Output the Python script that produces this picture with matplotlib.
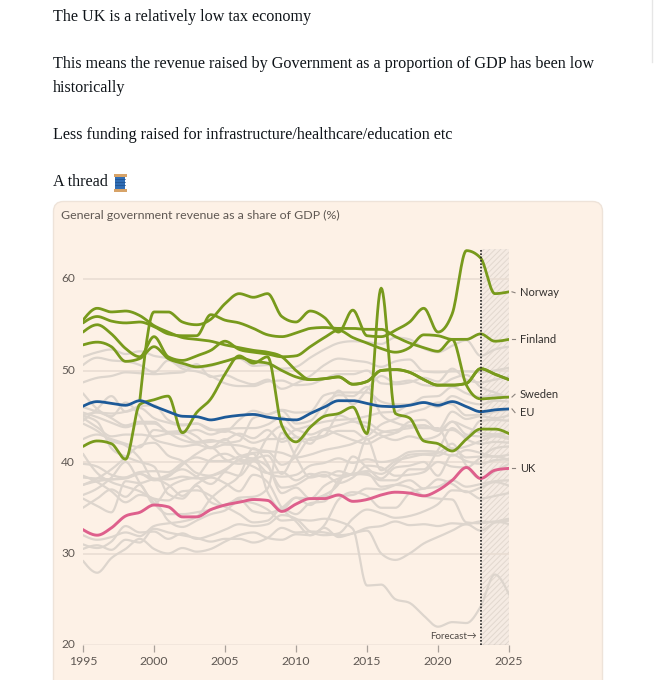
import numpy as np
import matplotlib
matplotlib.use('Agg')
import matplotlib.pyplot as plt
from matplotlib.patches import FancyBboxPatch, Rectangle

# ---- datos ----
years = list(range(1995, 2026))
nan = np.nan

eu = [46.1, 46.6, 46.4, 46.2, 46.7, 46.1, 45.5, 45.0, 44.95, 44.6, 44.9, 45.1, 45.2, 44.9, 44.7, 44.6,
      45.3, 46.0, 46.7, 46.7, 46.4, 46.1, 46.05, 46.2, 46.5, 46.2, 46.6, 46.05, 45.5, 45.7, 45.8]
uk = [32.6, 32.0, 32.8, 34.1, 34.5, 35.3, 35.1, 34.0, 34.0, 34.8, 35.3, 35.6, 35.9, 35.8, 34.6, 35.4,
      36.0, 36.0, 36.4, 35.7, 35.9, 36.4, 36.7, 36.6, 36.3, 36.9, 38.0, 39.4, 38.2, 39.1, 39.3]

norway = [nan, nan, nan, nan, 46.7, 56.4, 56.4, 55.3, 55.0, 55.6, 57.3, 58.4, 58.0, 58.4, 55.9, 55.3,
          56.5, 55.8, 54.2, 56.6, 53.8, 53.7, 54.4, 55.3, 56.8, 54.2, 56.2, 63.1, 62.3, 58.4, 58.6]
finland = [54.2, 55.0, 54.0, 52.4, 51.5, 53.7, 51.5, 51.1, 51.6, 52.2, 53.2, 52.3, 52.0, 51.8, 51.5, 51.6,
           52.6, 53.6, 54.4, 53.6, 53.0, 52.4, 52.0, 52.5, 53.9, 53.8, 53.4, 53.4, 54.0, 53.2, 53.4]
sweden = [55.2, 55.9, 55.4, 55.2, 55.3, 54.8, 54.0, 53.8, 53.8, 56.1, 55.5, 55.2, 54.6, 53.9, 53.7, 54.1,
          54.6, 54.7, 54.6, 54.6, 54.5, 54.5, 53.7, 53.0, 52.5, 52.1, 53.4, 48.4, 46.9, 47.0, 47.1]
verde3 = [55.5, 56.8, 56.4, 56.5, 56.0, 54.9, 54.2, 53.6, 53.4, 53.2, 52.8, 52.5, 52.2, 52.0, 51.5, 50.0,
          49.0, 49.1, 49.3, 48.5, 48.8, 50.0, 50.1, 49.8, 49.0, 48.4, 48.4, 48.6, 50.2, 49.6, 49.0]
verde4 = [52.8, 53.1, 52.6, 51.0, 51.3, 52.6, 51.3, 50.8, 50.4, 50.6, 51.0, 51.4, 51.0, 50.8, 50.0, 49.3,
          49.0, 49.1, 49.3, 48.5, 48.8, 50.0, 50.1, 49.8, 49.0, 48.4, 48.4, 48.6, 50.2, 49.6, 49.0]
islandia = [41.7, 42.3, 42.0, 40.3, 46.3, 46.8, 47.2, 43.2, 45.4, 46.9, 49.6, 51.6, 50.8, 51.5, 44.0, 42.2,
            43.8, 45.0, 45.3, 46.0, 43.1, 59.0, 45.3, 44.8, 42.3, 42.0, 41.2, 42.5, 43.6, 43.6, 43.1]
verdes = [norway, finland, sweden, verde3, verde4, islandia]

grises = [
    [51.5, 52.0, 52.3, 51.8, 52.1, 51.6, 51.3, 50.5, 50.3, 50.5, 51.0, 51.3, 50.5, 50.6, 50.2, 50.4,
     51.4, 52.3, 53.0, 53.2, 53.1, 52.9, 53.6, 53.4, 52.4, 52.0, 52.7, 53.3, 51.6, 52.3, 52.6],
    [48.7, 49.2, 49.4, 49.8, 49.7, 49.6, 49.7, 49.8, 50.7, 49.3, 49.5, 48.9, 48.5, 49.0, 48.0, 48.6,
     49.4, 50.6, 51.3, 51.1, 50.9, 50.4, 51.0, 51.2, 49.9, 49.8, 49.9, 49.9, 49.8, 50.0, 50.3],
    [50.6, 51.4, 51.1, 51.0, 50.6, 49.8, 51.1, 50.2, 49.9, 49.4, 48.6, 48.3, 48.3, 48.8, 48.9, 48.4,
     48.5, 49.1, 49.6, 49.6, 50.0, 48.6, 48.5, 48.7, 49.2, 48.8, 50.2, 49.0, 48.7, 49.0, 49.3],
    [44.5, 45.8, 47.2, 45.5, 45.9, 44.8, 44.3, 44.0, 44.2, 43.6, 43.3, 44.6, 45.6, 45.2, 45.7, 45.4,
     45.5, 47.3, 47.6, 47.6, 47.6, 46.6, 46.3, 46.3, 47.1, 47.2, 48.2, 47.5, 47.1, 47.3, 47.0],
    [45.1, 45.4, 45.3, 45.5, 46.1, 46.2, 44.6, 44.1, 44.2, 43.5, 43.6, 43.7, 43.7, 44.1, 44.9, 43.6,
     44.0, 44.4, 44.6, 44.7, 45.0, 45.4, 45.5, 46.3, 46.5, 46.0, 47.2, 46.6, 46.3, 46.7, 46.6],
    [45.4, 44.9, 44.3, 43.8, 44.2, 44.2, 43.2, 42.4, 42.1, 42.2, 42.4, 43.1, 42.6, 43.5, 42.2, 42.7,
     42.4, 42.8, 43.4, 43.4, 42.5, 43.2, 43.5, 43.7, 44.0, 43.4, 44.4, 43.0, 42.8, 43.0, 43.2],
    [47.5, 45.8, 44.8, 44.0, 44.4, 44.4, 43.2, 43.0, 42.2, 42.4, 42.1, 42.3, 44.8, 45.2, 45.6, 44.2,
     44.5, 46.3, 47.3, 47.2, 48.2, 45.2, 44.3, 43.9, 43.7, 43.7, 41.4, 41.7, 42.3, 42.8, 42.5],
    [37.5, 38.2, 39.2, 40.5, 41.8, 42.1, 40.7, 40.1, 38.8, 38.5, 38.9, 38.5, 40.2, 40.7, 38.7, 41.3,
     43.8, 45.2, 47.8, 46.3, 47.9, 49.4, 48.7, 48.9, 48.4, 48.3, 49.1, 49.5, 48.2, 47.6, 47.0],
    [37.5, 37.9, 38.1, 38.3, 38.9, 39.0, 38.9, 39.9, 40.5, 40.1, 40.1, 40.6, 41.0, 41.1, 39.7, 40.6,
     42.6, 42.9, 45.1, 44.5, 43.8, 42.9, 42.4, 42.8, 42.5, 42.9, 44.4, 43.8, 43.2, 43.0, 42.7],
    [38.3, 38.2, 38.1, 38.2, 38.7, 38.2, 38.1, 38.4, 38.2, 38.5, 39.2, 40.3, 40.9, 36.7, 34.8, 36.1,
     36.0, 37.4, 38.2, 38.7, 38.6, 38.0, 38.0, 39.2, 39.2, 41.3, 43.7, 42.5, 42.0, 42.2, 42.1],
    [39.8, 39.5, 38.6, 38.3, 38.7, 38.0, 38.4, 39.7, 40.9, 41.6, 40.3, 39.8, 40.1, 38.8, 38.4, 38.6,
     39.6, 39.9, 40.4, 39.9, 40.3, 40.0, 40.3, 41.1, 41.2, 41.1, 40.7, 41.3, 41.0, 40.6, 40.8],
    [45.0, 44.4, 41.5, 40.6, 40.0, 39.5, 36.5, 36.0, 37.4, 35.6, 35.1, 34.3, 33.4, 33.6, 34.9, 34.3,
     35.5, 35.7, 38.0, 38.8, 42.5, 39.1, 40.1, 40.5, 40.8, 40.7, 41.5, 40.5, 40.6, 40.6, 40.2],
    [44.2, 43.4, 42.3, 41.8, 40.4, 38.1, 38.6, 39.2, 38.4, 37.6, 39.0, 40.2, 40.2, 39.5, 37.2, 37.5,
     38.4, 38.9, 38.5, 38.7, 39.0, 38.7, 39.8, 40.8, 40.9, 41.0, 42.0, 39.6, 38.2, 39.0, 39.8],
    [40.9, 38.8, 37.8, 37.3, 36.8, 36.0, 35.8, 36.8, 36.9, 36.3, 35.2, 36.1, 36.2, 37.1, 43.2, 40.5,
     38.3, 38.6, 37.7, 38.3, 39.6, 39.4, 38.5, 38.6, 38.9, 40.0, 39.5, 39.4, 40.5, 41.5, 41.7],
    [36.4, 37.1, 38.3, 40.0, 37.7, 35.5, 34.3, 34.3, 34.5, 34.8, 35.3, 35.9, 34.6, 34.4, 35.0, 36.1,
     35.3, 36.3, 36.3, 36.4, 37.1, 37.0, 37.5, 38.0, 37.1, 38.1, 37.6, 36.7, 37.2, 37.8, 37.4],
    [31.0, 30.6, 31.3, 33.0, 32.3, 32.4, 31.6, 32.2, 31.6, 32.0, 32.6, 33.2, 33.0, 33.2, 34.2, 33.8,
     32.4, 32.0, 32.2, 33.8, 34.8, 34.4, 33.9, 34.1, 34.6, 35.4, 36.9, 36.8, 36.0, 36.3, 36.6],
    [30.5, 30.9, 30.4, 31.5, 31.2, 32.7, 32.3, 32.0, 31.7, 31.3, 31.6, 31.6, 31.2, 31.7, 32.8, 32.3,
     32.4, 32.3, 32.0, 32.2, 32.8, 33.0, 33.5, 33.1, 33.2, 33.0, 33.3, 33.2, 33.5, 33.4, 33.6],
    [38.5, 37.8, 36.8, 35.6, 36.4, 35.9, 33.6, 32.9, 33.6, 34.3, 34.7, 35.7, 35.5, 34.8, 33.6, 33.7,
     33.6, 33.8, 33.5, 32.7, 26.5, 26.6, 25.0, 24.6, 23.2, 22.0, 22.5, 22.4, 24.2, 27.7, 25.5],
    [29.2, 27.9, 29.5, 30.5, 31.6, 30.5, 30.0, 30.6, 30.2, 30.5, 31.3, 32.0, 32.3, 31.7, 31.5, 32.1,
     32.0, 32.8, 31.8, 32.2, 32.5, 30.0, 29.3, 30.0, 31.1, 31.8, 32.5, 33.2, 32.5, 33.4, 33.8],
    [36.0, 35.2, 34.5, 37.9, 37.7, 38.1, 37.5, 36.3, 37.6, 38.3, 37.7, 36.8, 38.6, 37.8, 35.0, 33.5,
     32.0, 33.1, 35.9, 36.7, 36.3, 35.0, 35.0, 36.6, 37.1, 37.3, 38.0, 37.3, 37.6, 37.9, 38.0],
    [44.8, 43.8, 42.8, 43.0, 43.0, 42.8, 43.1, 43.2, 43.5, 43.0, 43.4, 42.9, 42.1, 42.5, 42.5, 43.5,
     43.0, 43.6, 44.0, 44.4, 44.3, 43.4, 43.2, 44.0, 44.0, 43.5, 45.5, 44.7, 45.0, 44.8, 45.1],
    [42.5, 43.0, 42.5, 42.0, 41.6, 43.5, 43.3, 43.4, 42.8, 41.6, 42.5, 40.8, 40.4, 42.7, 43.9, 42.8,
     42.0, 43.5, 43.0, 42.4, 42.0, 42.7, 43.2, 44.4, 44.6, 43.5, 43.5, 42.8, 44.5, 44.6, 44.5],
    [46.0, 45.5, 45.0, 46.5, 45.0, 42.5, 42.0, 41.7, 41.9, 41.5, 41.9, 41.8, 41.4, 41.2, 41.0, 40.5,
     40.8, 41.3, 41.6, 42.0, 42.8, 44.1, 44.7, 45.4, 45.8, 46.5, 46.3, 45.1, 45.2, 45.5, 45.7],
    [32.0, 31.5, 31.8, 32.3, 31.9, 33.0, 33.3, 33.5, 34.0, 36.0, 37.3, 38.5, 41.5, 39.8, 36.6, 37.2,
     36.0, 36.4, 37.6, 40.6, 39.4, 38.2, 39.4, 39.6, 40.0, 38.5, 40.8, 40.1, 39.8, 40.2, 40.3],
    [35.0, 36.0, 37.0, 36.2, 37.5, 35.4, 37.2, 38.0, 38.4, 40.3, 40.9, 40.2, 39.5, 38.8, 38.9, 38.0,
     38.7, 38.4, 39.0, 38.6, 38.8, 37.3, 37.5, 37.2, 36.3, 36.0, 35.9, 33.4, 33.3, 33.5, 33.2],
]

etiquetas = ['Norway', 'Finland', 'Sweden', 'EU', 'UK']
fin_series = [norway[-1], finland[-1], sweden[-1], eu[-1], uk[-1]]
pos_etiqueta = [58.5, 53.4, 47.4, 45.4, 39.3]

ticks_x = [1995, 2000, 2005, 2010, 2015, 2020, 2025]
ticks_y = [20, 30, 40, 50, 60]
anio_pronostico = 2023

VERDE = '#789a1c'
AZUL = '#1d5a98'
ROSA = '#de5f8c'
GRIS = '#ddd5cd'
FONDO = '#fdf1e6'


def suavizar(x, y, n=16):
    # curva monotona (tipo d3.curveMonotoneX), ignora los NaN
    x = np.asarray(x, float)
    y = np.asarray(y, float)
    ok = ~np.isnan(y)
    x, y = x[ok], y[ok]
    h = np.diff(x)
    d = np.diff(y) / h
    m = np.zeros_like(y)
    for i in range(1, len(y) - 1):
        p = (d[i - 1] * h[i] + d[i] * h[i - 1]) / (h[i - 1] + h[i])
        m[i] = (np.sign(d[i - 1]) + np.sign(d[i])) * min(abs(d[i - 1]), abs(d[i]), 0.5 * abs(p))
    m[0] = (3 * d[0] - m[1]) / 2 if len(y) > 2 else d[0]
    m[-1] = (3 * d[-1] - m[-2]) / 2 if len(y) > 2 else d[-1]
    xs, ys = [], []
    for i in range(len(h)):
        t = np.linspace(0, 1, n, endpoint=False)
        h00 = 2 * t**3 - 3 * t**2 + 1
        h10 = t**3 - 2 * t**2 + t
        h01 = -2 * t**3 + 3 * t**2
        h11 = t**3 - t**2
        xs.append(x[i] + t * h[i])
        ys.append(h00 * y[i] + h10 * h[i] * m[i] + h01 * y[i + 1] + h11 * h[i] * m[i + 1])
    xs.append([x[-1]])
    ys.append([y[-1]])
    return np.concatenate(xs), np.concatenate(ys)


W, H = 656, 680
fig = plt.figure(figsize=(W / 100, H / 100), dpi=100)
fig.patch.set_facecolor('white')

# fondo en pixeles
bg = fig.add_axes([0, 0, 1, 1])
bg.set_xlim(0, W)
bg.set_ylim(H, 0)
bg.axis('off')

serif = 'Liberation Serif'
txt = '#0f1419'
bg.text(53, 17, 'The UK is a relatively low tax economy', fontsize=11.6, family=serif, color=txt, va='center')
bg.text(53, 64, 'This means the revenue raised by Government as a proportion of GDP has been low',
        fontsize=11.6, family=serif, color=txt, va='center')
bg.text(53, 88, 'historically', fontsize=11.6, family=serif, color=txt, va='center')
bg.text(53, 135, 'Less funding raised for infrastructure/healthcare/education etc',
        fontsize=11.6, family=serif, color=txt, va='center')
bg.text(53, 182, 'A thread', fontsize=11.6, family=serif, color=txt, va='center')

# carrete (emoji)
bg.add_patch(Rectangle((115, 176), 10, 13, facecolor='#2f6db5', edgecolor='none'))
bg.add_patch(Rectangle((113.5, 173.5), 13, 3, facecolor='#d7a368', edgecolor='none'))
bg.add_patch(Rectangle((113.5, 188.5), 13, 3, facecolor='#d7a368', edgecolor='none'))
for yy in (179, 182, 185):
    bg.plot([115, 125], [yy, yy], color='#1f4f8c', lw=0.5)

bg.plot([652, 652], [0, 62], color='#e6e6e6', lw=1)

bg.add_patch(FancyBboxPatch((53.5, 201.5), 549, 520, boxstyle='round,pad=0,rounding_size=10',
                            facecolor=FONDO, edgecolor='#eee3d9', lw=1))
bg.text(61, 215, 'General government revenue as a share of GDP (%)', fontsize=8.9,
        family='Lato', color='#5f5853', va='center')

# grafico
x0, x1 = 83, 509
yb, yt = 645, 249
ax = fig.add_axes([x0 / W, (H - yb) / H, (x1 - x0) / W, (yb - yt) / H])
ax.set_facecolor('none')
ax.set_xlim(1995, 2025)
ax.set_ylim(20, 20 + (645 - 249) / 9.15)
for s in ax.spines.values():
    s.set_visible(False)

plt.rcParams['hatch.linewidth'] = 0.7
ax.axvspan(anio_pronostico, 2025, facecolor='#f5ebe3', edgecolor='#e2d8cf', hatch='//////', lw=0, zorder=0)

for v in ticks_y[1:]:
    ax.axhline(v, color='#e8dcd2', lw=1.1, zorder=1)
ax.axhline(20, color='#a9a19a', lw=0.9, zorder=1)

for g in grises:
    xs, ys = suavizar(years, g)
    ax.plot(xs, ys, color=GRIS, lw=1.6, zorder=2, solid_capstyle='round')
for g in verdes:
    xs, ys = suavizar(years, g)
    ax.plot(xs, ys, color=VERDE, lw=2.0, zorder=3, solid_capstyle='round')
xs, ys = suavizar(years, eu)
ax.plot(xs, ys, color=AZUL, lw=2.0, zorder=4)
xs, ys = suavizar(years, uk)
ax.plot(xs, ys, color=ROSA, lw=2.1, zorder=5)

ax.axvline(anio_pronostico, color='#222222', lw=1.2, ls=(0, (1, 1)), zorder=6)
ax.text(anio_pronostico - 0.25, 20.9, 'Forecast\u2192', ha='right', va='center', fontsize=7,
        family='Lato', color='#4f4945', zorder=7)

ax.set_xticks(ticks_x)
ax.set_xticklabels([str(t) for t in ticks_x])
ax.set_yticks(ticks_y)
ax.set_yticklabels([str(t) for t in ticks_y])
ax.tick_params(axis='x', length=5, width=0.9, color='#a9a19a', pad=3, labelsize=8.8, labelcolor='#5f5853')
ax.tick_params(axis='y', length=0, pad=0, labelsize=8.6, labelcolor='#5f5853')
for lab in ax.get_xticklabels() + ax.get_yticklabels():
    lab.set_family('Lato')
for lab in ax.get_yticklabels():
    lab.set_horizontalalignment('left')
    lab.set_x(-22 / (x1 - x0))
    lab.set_verticalalignment('center')

# etiquetas finales
px = 1 / 14.2
for nom, vfin, vlab in zip(etiquetas, fin_series, pos_etiqueta):
    ax.plot([2025 + 3 * px, 2025 + 6 * px], [vfin, vlab], color='#8a827c', lw=0.8, clip_on=False)
    ax.text(2025 + 11 * px, vlab, nom, fontsize=8.0, family='Lato', color='#33302e',
            va='center', ha='left', clip_on=False)

fig.savefig('out.png', dpi=100, facecolor='white')
